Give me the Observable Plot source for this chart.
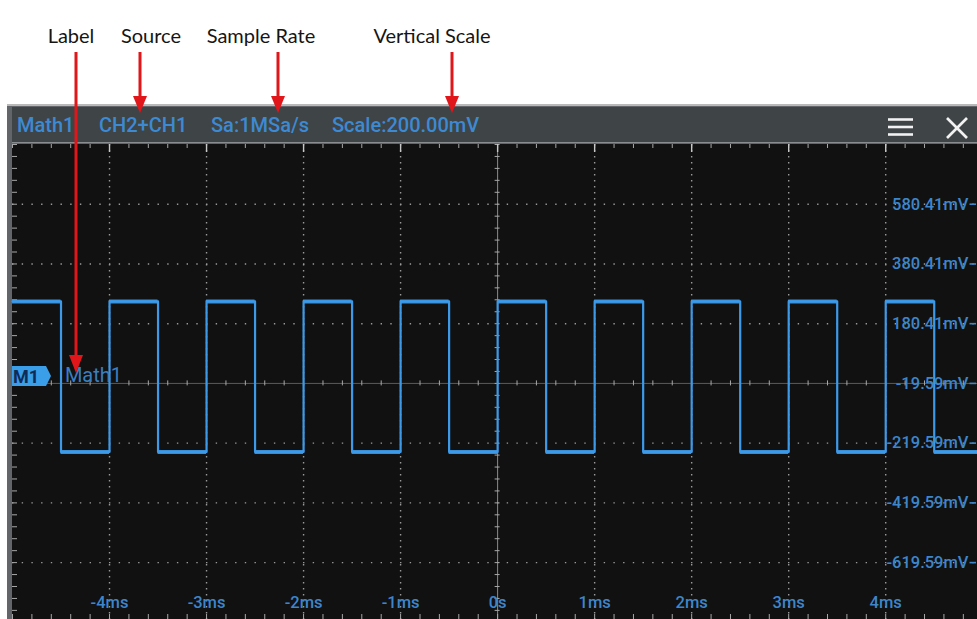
<!DOCTYPE html>
<html>
<head>
<meta charset="utf-8">
<script src="https://cdn.jsdelivr.net/npm/d3@7"></script>
<script src="https://cdn.jsdelivr.net/npm/@observablehq/plot@0.6"></script>
<style>
  body { margin: 0; background: #fff; }
  #wrap { position: relative; width: 977px; height: 619px; overflow: hidden; font-family: Roboto, sans-serif; }
  .ann { position: absolute; top: 22px; font-family: Lato, sans-serif; font-size: 20px; color: #151515; transform: translateX(-50%); white-space: nowrap; line-height: 26px; }
  #frame { position: absolute; left: 7px; top: 104px; width: 990px; height: 530px; background: #62666a; border-top: 2px solid #b9b9b9; }
  #header { position: absolute; left: 12px; top: 107px; width: 980px; height: 35px; background: #3f4447; border-bottom: 1px solid #8a8d90; }
  .h { position: absolute; top: 107px; height: 35px; line-height: 37px; color: #3d8ad3; font-size: 20px; font-weight: 500; white-space: nowrap; }
  #chart { position: absolute; left: 12px; top: 144px; }
  #overlay { position: absolute; left: 0; top: 0; pointer-events: none; }
</style>
</head>
<body>
<div id="wrap">
  <div class="ann" style="left:71px">Label</div>
  <div class="ann" style="left:151px">Source</div>
  <div class="ann" style="left:261px">Sample Rate</div>
  <div class="ann" style="left:432px">Vertical Scale</div>
  <div id="frame"></div>
  <div id="header"></div>
  <div class="h" style="left:17px">Math1</div>
  <div class="h" style="left:99px">CH2+CH1</div>
  <div class="h" style="left:211px">Sa:1MSa/s</div>
  <div class="h" style="left:332px">Scale:200.00mV</div>
  <div id="chart"></div>
  <svg id="overlay" width="977" height="619">
    <g stroke="#f2f2f2" stroke-width="2.6" stroke-linecap="butt">
      <line x1="888" y1="119.5" x2="913" y2="119.5"/>
      <line x1="888" y1="127" x2="913" y2="127"/>
      <line x1="888" y1="134.5" x2="913" y2="134.5"/>
      <line x1="947" y1="118" x2="967" y2="138"/>
      <line x1="967" y1="118" x2="947" y2="138"/>
    </g>
    <polygon points="12,366 46,366 51,376 46,386 12,386" fill="#3a9ee8"/>
    <text x="13" y="383" font-family="Roboto" font-weight="bold" font-size="18" fill="#0e2c57">M1</text>
    <g stroke="#e0161b" stroke-width="3">
      <line x1="76" y1="52" x2="76" y2="358"/>
      <line x1="140" y1="52" x2="140" y2="98"/>
      <line x1="278" y1="52" x2="278" y2="98"/>
      <line x1="452" y1="52" x2="452" y2="98"/>
    </g>
    <g fill="#e0161b">
      <polygon points="69,355 83,355 76,373"/>
      <polygon points="133,96 147,96 140,113"/>
      <polygon points="271,96 285,96 278,113"/>
      <polygon points="445,96 459,96 452,113"/>
    </g>
  </svg>
</div>
<script>
// ---- data ----
const timeTicks = [-4, -3, -2, -1, 0, 1, 2, 3, 4];
const timeLabels = ["-4ms", "-3ms", "-2ms", "-1ms", "0s", "1ms", "2ms", "3ms", "4ms"];
const voltTicks = [580.41, 380.41, 180.41, -19.59, -219.59, -419.59, -619.59];
const voltLabels = ["580.41mV", "380.41mV", "180.41mV", "-19.59mV", "-219.59mV", "-419.59mV", "-619.59mV"];
// square wave: transition times (ms) and the level (mV) held from each time
const edgeTimes = [-5, -4.5, -4, -3.5, -3, -2.5, -2, -1.5, -1, -0.5, 0, 0.5, 1, 1.5, 2, 2.5, 3, 3.5, 4, 4.5, 4.946];
const levels    = [255, -249, 255, -249, 255, -249, 255, -249, 255, -249, 255, -249, 255, -249, 255, -249, 255, -249, 255, -249, -249];
const labelName = "Math1";
const offsetMV = -19.59;

// ---- chart ----
const xDom = [-5, 4.946];
const yDom = [-810.1, 780.41];
const pxT = 1 / 97.02;      // ms per pixel
const pxV = 200 / 59.73;    // mV per pixel

const wave = edgeTimes.map((t, i) => ({t, v: levels[i]}));
const plateaus = edgeTimes.slice(0, -1).map((t, i) => ({t1: t, t2: edgeTimes[i + 1], v: levels[i]}));

const minorX = d3.range(-5, 4.95, 0.2).map(d => +d.toFixed(2));
const minorY = d3.range(offsetMV - 40 * 20, 790, 40).filter(d => d >= yDom[0] && d <= yDom[1]);
const hGrid = voltTicks.filter(d => d !== offsetMV);
const vGrid = timeTicks.filter(d => d !== 0);
const lbl = "#3d86cc";
const tickC = "#a8a8a8";

const chart = Plot.plot({
  width: 965,
  height: 475,
  margin: 0,
  x: {domain: xDom, axis: null},
  y: {domain: yDom, axis: null},
  style: {background: "#111111", overflow: "visible"},
  marks: [
    Plot.ruleY(hGrid, {stroke: "#9a9a9a", strokeWidth: 1.4, strokeDasharray: "1.4,8.3"}),
    Plot.ruleX(vGrid, {stroke: "#9a9a9a", strokeWidth: 1.4, strokeDasharray: "1.4,4.6"}),
    Plot.ruleY([offsetMV], {stroke: "#5c5c5c", strokeWidth: 1}),
    Plot.ruleX([0], {stroke: "#8c8c8c", strokeWidth: 1}),
    // center-line minor ticks
    Plot.ruleX(minorX, {y1: offsetMV - 2.5 * pxV, y2: offsetMV + 2.5 * pxV, stroke: tickC, strokeWidth: 1}),
    Plot.ruleY(minorY, {x1: -2.5 * pxT, x2: 2.5 * pxT, stroke: tickC, strokeWidth: 1}),
    // edge ticks
    Plot.ruleX(minorX, {y1: yDom[1], y2: yDom[1] - 4 * pxV, stroke: tickC, strokeWidth: 1}),
    Plot.ruleX(timeTicks, {y1: yDom[1], y2: yDom[1] - 8 * pxV, stroke: "#c8c8c8", strokeWidth: 1.4}),
    Plot.ruleX(minorX, {y1: yDom[0], y2: yDom[0] + 5 * pxV, stroke: tickC, strokeWidth: 1}),
    Plot.ruleY(minorY, {x1: xDom[0], x2: xDom[0] + 5 * pxT, stroke: tickC, strokeWidth: 1}),
    // waveform
    Plot.ruleY(plateaus, {x1: "t1", x2: "t2", y: "v", stroke: "#3d9ae9", strokeWidth: 4, strokeOpacity: 0.9}),
    Plot.line(wave, {x: "t", y: "v", curve: "step-after", stroke: "#3d9ae9", strokeWidth: 2.2}),
    // labels
    Plot.text([labelName], {x: -4.46, y: offsetMV, text: d => d, textAnchor: "start", lineAnchor: "bottom", dy: -1,
      fill: "#3a7fc2", fontSize: 20, fontFamily: "Roboto"}),
    Plot.text(voltTicks, {y: d => d, text: (d, i) => voltLabels[i], frameAnchor: "right", textAnchor: "end", dx: -9,
      fill: lbl, fontSize: 16.5, fontWeight: 500, fontFamily: "Roboto"}),
    Plot.ruleY(voltTicks, {x1: xDom[1] - 7.5 * pxT, x2: xDom[1] - 1 * pxT, stroke: lbl, strokeWidth: 1.6}),
    Plot.text(timeTicks, {x: d => d, text: (d, i) => timeLabels[i], frameAnchor: "bottom", dy: -12,
      fill: lbl, fontSize: 16.5, fontWeight: 500, fontFamily: "Roboto"})
  ]
});
document.getElementById("chart").appendChild(chart);
</script>
</body>
</html>
